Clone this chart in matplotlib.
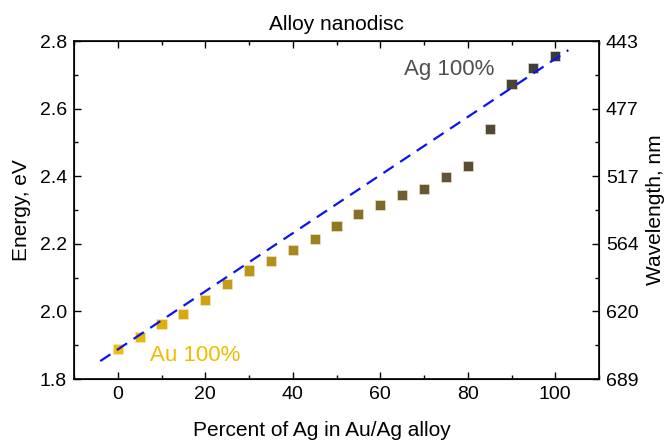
import matplotlib
matplotlib.use("Agg")
import matplotlib.pyplot as plt
import numpy as np
from matplotlib.colors import LinearSegmentedColormap
from matplotlib.ticker import MultipleLocator

plt.rcParams['font.family'] = ['Liberation Sans', 'DejaVu Sans']

ag_percent = [0, 5, 10, 15, 20, 25, 30, 35, 40, 45, 50, 55, 60, 65, 70, 75, 80, 85, 90, 95, 100]
energy_ev = [1.888, 1.924, 1.962, 1.992, 2.034, 2.080, 2.121, 2.150, 2.183, 2.214, 2.254,
             2.288, 2.314, 2.344, 2.361, 2.399, 2.431, 2.540, 2.672, 2.719, 2.755]
fit_x = [-4, 103]
fit_y = [1.853, 2.773]
energy_ticks = [1.8, 2.0, 2.2, 2.4, 2.6, 2.8]
wavelength_labels = ['689', '620', '564', '517', '477', '443']

fig = plt.figure(figsize=(6.7, 4.41), dpi=100)
ax = fig.add_axes([74/670, 1 - 379/441, 525/670, 338/441])

cmap = LinearSegmentedColormap.from_list('auag', ['#F2BC00', '#B8921A', '#6E5C30', '#3A3A3A'])
cols = cmap(np.array(ag_percent) / 100.0)
ax.scatter(ag_percent, energy_ev, marker='s', s=52, c=cols, edgecolors='#f3ead0',
           linewidths=0.4, zorder=2)
ax.plot(fit_x, fit_y, color='#0a14f0', linestyle=(0, (5.5, 3.5)), linewidth=1.6, zorder=3)

ax.set_xlim(-10, 110)
ax.set_ylim(1.8, 2.8)
ax.xaxis.set_major_locator(MultipleLocator(20))
ax.xaxis.set_minor_locator(MultipleLocator(10))
ax.set_yticks(energy_ticks)
ax.yaxis.set_minor_locator(MultipleLocator(0.1))
ax.tick_params(which='both', direction='in', top=True, right=False, labelsize=14)
ax.tick_params(which='major', length=5, width=1, pad=5)
ax.tick_params(which='minor', length=3, width=1)
for s in ax.spines.values():
    s.set_linewidth(1.2)

ax2 = ax.twinx()
ax2.set_ylim(1.8, 2.8)
ax2.set_yticks(energy_ticks)
ax2.set_yticklabels(wavelength_labels)
ax2.yaxis.set_minor_locator(MultipleLocator(0.1))
ax2.tick_params(which='both', direction='in', labelsize=14)
ax2.tick_params(which='major', length=5, width=1, pad=5)
ax2.tick_params(which='minor', length=3, width=1)

ax.set_xlabel('Percent of Ag in Au/Ag alloy', fontsize=15)
ax.xaxis.set_label_coords(0.472, -0.125)
ax.set_ylabel('Energy, eV', fontsize=15, labelpad=6)
ax2.set_ylabel('Wavelength, nm', fontsize=15, labelpad=5)
ax.set_title('Alloy nanodisc', fontsize=15, pad=8)

ax.text(86, 2.717, 'Ag 100%', color='#505050', fontsize=16, ha='right', va='center')
ax.text(7.3, 1.871, 'Au 100%', color='#F2BC00', fontsize=16, ha='left', va='center')

fig.savefig('out.png', dpi=100)
